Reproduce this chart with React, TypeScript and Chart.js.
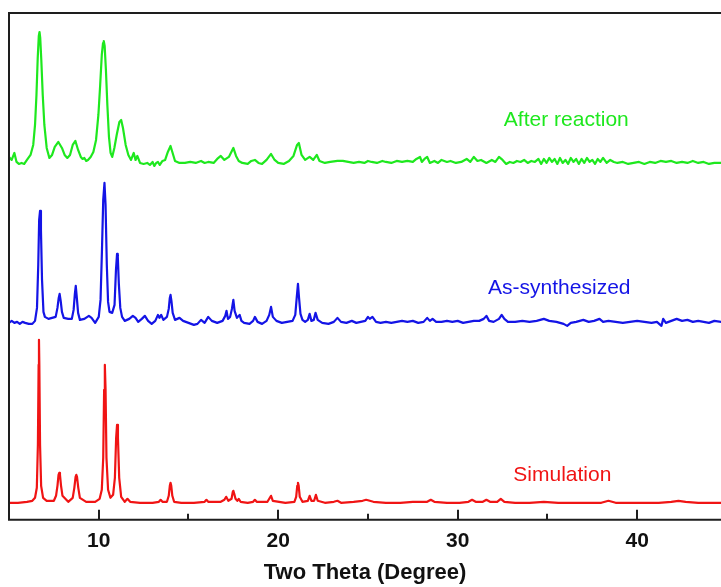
import React, { useEffect, useRef } from "react";
import { Chart, registerables } from "chart.js";

Chart.register(...registerables);

// Two Theta range shown
const xMin = 5;
const xMax = 44.67;
const xTickValues = [10, 20, 30, 40];
const xMinorTickValues = [15, 25, 35];
const xTitle = "Two Theta (Degree)";

// Series names and colours
const seriesNames = ["After reaction", "As-synthesized", "Simulation"];
const seriesColors = ["#1ee81e", "#1414e6", "#f01414"];
// label anchor positions (two theta, intensity) for each series name
const seriesLabelX = [36.05, 35.66, 35.83];
const seriesLabelY = [400, 232, 45];

// Simulation pattern [2θ, intensity (offset units)]
const simulation: [number, number][] = [
  [5.0, 17], [5.5, 17], [6.0, 18], [6.3, 19], [6.45, 22], [6.55, 32], [6.61, 75], [6.65, 155], [6.67, 180], [6.69, 155],
  [6.73, 75], [6.79, 34], [6.9, 22], [7.1, 19], [7.5, 19], [7.62, 24], [7.7, 34], [7.76, 45], [7.8, 47], [7.84, 45],
  [7.9, 34], [7.98, 24], [8.3, 18], [8.55, 22], [8.64, 32], [8.71, 43], [8.75, 45], [8.79, 43], [8.86, 32], [8.95, 22],
  [9.3, 18], [9.8, 18], [10.05, 21], [10.17, 30], [10.25, 62], [10.3, 130], [10.34, 155], [10.38, 130], [10.43, 62], [10.52, 30],
  [10.65, 22], [10.8, 25], [10.9, 42], [10.97, 82], [11.02, 95], [11.07, 82], [11.14, 42], [11.25, 23], [11.45, 18], [11.6, 21],
  [11.75, 18], [12.3, 17], [13.0, 17], [13.35, 18], [13.45, 20], [13.55, 18], [13.8, 18], [13.9, 24], [13.96, 34], [14.0, 37],
  [14.04, 34], [14.1, 24], [14.2, 18], [14.6, 17], [15.3, 17], [15.9, 18], [16.0, 20], [16.1, 18], [16.8, 18], [17.0, 20],
  [17.1, 23], [17.22, 19], [17.4, 21], [17.47, 28], [17.5, 29], [17.55, 26], [17.62, 21], [17.72, 19], [17.8, 21], [17.9, 18],
  [18.3, 17], [18.6, 18], [18.7, 20], [18.8, 18], [19.4, 18], [19.5, 21], [19.6, 24], [19.7, 19], [20.4, 17], [20.9, 18],
  [21.0, 23], [21.06, 34], [21.1, 37], [21.14, 34], [21.2, 23], [21.35, 18], [21.65, 19], [21.75, 24], [21.85, 19], [22.0, 19],
  [22.1, 25], [22.2, 19], [22.6, 17], [23.1, 18], [23.3, 19], [23.5, 17], [24.2, 18], [24.7, 19], [24.9, 20], [25.3, 18],
  [26.0, 17], [26.8, 17], [27.5, 18], [28.3, 18], [28.5, 20], [28.7, 18], [29.4, 17], [30.1, 17], [30.6, 18], [30.8, 20],
  [31.0, 18], [31.4, 18], [31.6, 20], [31.8, 18], [32.2, 18], [32.4, 21], [32.6, 18], [33.2, 17], [34.0, 17], [34.8, 18],
  [35.6, 17], [36.4, 17], [37.2, 17], [38.0, 17], [38.4, 19], [38.8, 17], [39.6, 17], [40.4, 17], [41.2, 17], [41.9, 18],
  [42.3, 19], [42.7, 18], [43.4, 17], [44.0, 17], [44.7, 17],
];

// As-synthesized pattern
const asSynthesized: [number, number][] = [
  [5.0, 197], [5.15, 199], [5.3, 197], [5.45, 198], [5.6, 196], [5.75, 198], [5.9, 197], [6.1, 196], [6.3, 196], [6.45, 199],
  [6.56, 212], [6.63, 255], [6.68, 300], [6.73, 309], [6.78, 290], [6.84, 240], [6.92, 208], [7.0, 203], [7.2, 201], [7.4, 202],
  [7.6, 203], [7.7, 212], [7.77, 222], [7.82, 226], [7.88, 219], [7.95, 208], [8.05, 202], [8.3, 201], [8.5, 201], [8.6, 210],
  [8.67, 226], [8.72, 234], [8.77, 224], [8.85, 207], [8.95, 200], [9.2, 201], [9.45, 204], [9.6, 202], [9.8, 197], [10.0, 203],
  [10.1, 220], [10.18, 270], [10.25, 320], [10.32, 337], [10.38, 315], [10.45, 255], [10.52, 218], [10.6, 208], [10.75, 207], [10.88, 215],
  [10.96, 250], [11.02, 266], [11.06, 264], [11.12, 236], [11.2, 212], [11.3, 203], [11.45, 199], [11.7, 201], [11.9, 204], [12.05, 202],
  [12.2, 198], [12.4, 201], [12.57, 204], [12.75, 199], [12.95, 196], [13.15, 199], [13.3, 205], [13.38, 202], [13.48, 205], [13.6, 200],
  [13.8, 203], [13.9, 211], [13.96, 222], [14.0, 225], [14.05, 219], [14.12, 207], [14.25, 200], [14.5, 202], [14.7, 199], [15.0, 197],
  [15.3, 195], [15.5, 196], [15.7, 200], [15.9, 197], [16.1, 203], [16.3, 199], [16.6, 197], [16.9, 199], [17.05, 204], [17.12, 209],
  [17.2, 201], [17.32, 203], [17.42, 211], [17.5, 220], [17.57, 209], [17.7, 202], [17.85, 205], [17.95, 199], [18.1, 197], [18.4, 196],
  [18.6, 199], [18.7, 203], [18.85, 198], [19.1, 196], [19.35, 199], [19.5, 205], [19.6, 213], [19.7, 203], [19.9, 199], [20.2, 197],
  [20.5, 198], [20.8, 199], [20.95, 205], [21.03, 222], [21.1, 236], [21.16, 222], [21.24, 206], [21.35, 200], [21.5, 198], [21.65, 200],
  [21.75, 206], [21.85, 199], [21.98, 200], [22.08, 207], [22.2, 200], [22.45, 197], [22.8, 196], [23.1, 198], [23.3, 202], [23.5, 198],
  [23.8, 197], [24.1, 199], [24.35, 197], [24.6, 198], [24.85, 199], [25.0, 203], [25.1, 201], [25.25, 203], [25.45, 198], [25.7, 197],
  [26.0, 198], [26.3, 197], [26.6, 198], [26.9, 199], [27.2, 198], [27.5, 199], [27.8, 197], [28.1, 198], [28.3, 202], [28.45, 199],
  [28.6, 201], [28.8, 198], [29.1, 198], [29.4, 199], [29.7, 198], [30.0, 199], [30.3, 197], [30.6, 198], [30.9, 199], [31.2, 199],
  [31.45, 201], [31.6, 204], [31.75, 199], [32.0, 198], [32.3, 201], [32.45, 205], [32.6, 201], [32.8, 198], [33.2, 198], [33.6, 199],
  [34.0, 198], [34.4, 199], [34.8, 201], [35.1, 199], [35.5, 198], [35.9, 196], [36.1, 194], [36.3, 197], [36.6, 198], [37.0, 200],
  [37.3, 198], [37.6, 199], [37.9, 201], [38.1, 198], [38.4, 199], [38.8, 198], [39.2, 197], [39.6, 198], [40.0, 199], [40.4, 198],
  [40.8, 197], [41.1, 198], [41.35, 194], [41.45, 201], [41.6, 197], [41.9, 199], [42.2, 201], [42.5, 199], [42.8, 200], [43.1, 198],
  [43.4, 199], [43.7, 198], [44.0, 197], [44.3, 199], [44.7, 198],
];

// After reaction pattern
const afterReaction: [number, number][] = [
  [5.0, 363], [5.15, 360], [5.3, 367], [5.42, 358], [5.55, 356], [5.7, 357], [5.85, 356], [6.0, 360], [6.2, 365], [6.35, 375],
  [6.45, 395], [6.53, 425], [6.6, 462], [6.66, 484], [6.7, 488], [6.74, 482], [6.8, 460], [6.88, 425], [6.97, 395], [7.1, 372],
  [7.25, 362], [7.4, 365], [7.55, 373], [7.75, 378], [7.95, 372], [8.1, 365], [8.25, 362], [8.4, 365], [8.55, 375], [8.7, 379],
  [8.85, 370], [9.0, 363], [9.1, 361], [9.2, 362], [9.3, 359], [9.4, 360], [9.55, 363], [9.7, 368], [9.85, 380], [9.98, 405],
  [10.08, 435], [10.17, 465], [10.24, 477], [10.28, 479], [10.33, 474], [10.4, 450], [10.48, 415], [10.57, 383], [10.66, 367], [10.75, 363],
  [10.87, 372], [11.0, 385], [11.15, 398], [11.25, 400], [11.35, 392], [11.5, 375], [11.65, 365], [11.8, 360], [11.95, 367], [12.05, 360],
  [12.15, 364], [12.3, 357], [12.5, 356], [12.7, 357], [12.85, 355], [13.0, 358], [13.1, 354], [13.2, 357], [13.3, 358], [13.4, 355],
  [13.55, 359], [13.7, 360], [13.85, 368], [14.0, 374], [14.1, 368], [14.25, 359], [14.5, 357], [14.8, 357], [15.1, 358], [15.4, 357],
  [15.7, 359], [15.9, 357], [16.1, 358], [16.4, 357], [16.6, 361], [16.8, 364], [17.0, 360], [17.25, 363], [17.5, 372], [17.65, 364],
  [17.8, 359], [18.0, 357], [18.3, 356], [18.5, 359], [18.7, 360], [18.9, 357], [19.1, 356], [19.35, 360], [19.6, 366], [19.8, 360],
  [20.0, 357], [20.3, 356], [20.6, 359], [20.85, 364], [21.05, 375], [21.15, 377], [21.3, 365], [21.5, 360], [21.75, 363], [21.95, 360],
  [22.15, 365], [22.3, 359], [22.6, 357], [22.9, 358], [23.3, 359], [23.6, 359], [23.9, 358], [24.2, 357], [24.5, 358], [24.8, 357],
  [25.0, 359], [25.2, 358], [25.5, 357], [25.8, 359], [26.0, 358], [26.3, 357], [26.6, 359], [26.9, 358], [27.2, 359], [27.5, 358],
  [27.7, 361], [27.9, 363], [28.0, 358], [28.15, 361], [28.3, 363], [28.45, 357], [28.7, 359], [28.9, 357], [29.1, 360], [29.4, 358],
  [29.6, 359], [29.9, 357], [30.2, 358], [30.5, 361], [30.7, 358], [30.9, 363], [31.1, 359], [31.3, 360], [31.6, 357], [31.9, 360],
  [32.1, 358], [32.3, 363], [32.5, 360], [32.7, 356], [32.9, 358], [33.1, 357], [33.3, 359], [33.5, 358], [33.7, 360], [33.9, 357],
  [34.1, 359], [34.3, 358], [34.5, 361], [34.65, 356], [34.8, 361], [34.95, 357], [35.1, 362], [35.25, 358], [35.4, 361], [35.55, 356],
  [35.7, 362], [35.85, 357], [36.0, 360], [36.15, 356], [36.3, 362], [36.45, 358], [36.6, 361], [36.75, 356], [36.9, 361], [37.05, 357],
  [37.2, 362], [37.35, 358], [37.5, 360], [37.65, 356], [37.8, 361], [37.95, 358], [38.1, 362], [38.3, 357], [38.5, 360], [38.7, 358],
  [38.9, 357], [39.2, 358], [39.5, 356], [39.8, 357], [40.1, 358], [40.4, 356], [40.7, 358], [41.0, 357], [41.3, 359], [41.6, 358],
  [41.9, 359], [42.2, 357], [42.5, 358], [42.8, 357], [43.1, 359], [43.4, 357], [43.7, 358], [44.0, 356], [44.3, 357], [44.7, 357],
];

const seriesData = [afterReaction, asSynthesized, simulation];

const FONT = "'Liberation Sans', Arial, Helvetica, sans-serif";
const FRAME = "#1e1e1e";

const framePlugin = {
  id: "frameAndLabels",
  afterDatasetsDraw(chart: any) {
    const { ctx, chartArea } = chart;
    const xs = chart.scales.x;
    const ys = chart.scales.y;
    ctx.save();
    ctx.strokeStyle = FRAME;
    ctx.lineWidth = 2;
    ctx.beginPath();
    ctx.moveTo(chartArea.right + 2, chartArea.top);
    ctx.lineTo(chartArea.left, chartArea.top);
    ctx.lineTo(chartArea.left, chartArea.bottom);
    ctx.lineTo(chartArea.right + 2, chartArea.bottom);
    ctx.stroke();
    ctx.beginPath();
    for (const v of xTickValues) {
      const px = Math.round(xs.getPixelForValue(v));
      ctx.moveTo(px, chartArea.bottom);
      ctx.lineTo(px, chartArea.bottom - 10);
    }
    for (const v of xMinorTickValues) {
      const px = Math.round(xs.getPixelForValue(v));
      ctx.moveTo(px, chartArea.bottom);
      ctx.lineTo(px, chartArea.bottom - 6);
    }
    ctx.stroke();
    ctx.font = `21px ${FONT}`;
    ctx.textAlign = "center";
    ctx.textBaseline = "middle";
    seriesNames.forEach((name, i) => {
      ctx.fillStyle = seriesColors[i];
      ctx.fillText(name, xs.getPixelForValue(seriesLabelX[i]), ys.getPixelForValue(seriesLabelY[i]));
    });
    ctx.restore();
  },
};

export default function App() {
  const canvasRef = useRef<HTMLCanvasElement | null>(null);

  useEffect(() => {
    if (!canvasRef.current) return;
    const chart = new Chart(canvasRef.current, {
      type: "line",
      data: {
        datasets: seriesNames.map((name, i) => ({
          label: name,
          data: seriesData[i].map(([x, y]) => ({ x, y })),
          borderColor: seriesColors[i],
          backgroundColor: seriesColors[i],
          borderWidth: 2.2,
          pointRadius: 0,
          tension: 0,
          borderJoinStyle: "round",
          fill: false,
        })),
      },
      options: {
        animation: false,
        responsive: true,
        maintainAspectRatio: false,
        layout: { padding: { left: 9, top: 13, right: 0, bottom: 3 } },
        plugins: {
          legend: { display: false },
          tooltip: { enabled: false },
        },
        scales: {
          x: {
            type: "linear",
            min: xMin,
            max: xMax,
            afterBuildTicks: (scale: any) => {
              scale.ticks = xTickValues.map((v) => ({ value: v }));
            },
            grid: { display: false, drawTicks: false },
            border: { display: false },
            ticks: {
              color: "#111",
              font: { family: FONT, size: 21, weight: "bold" },
              padding: 8.5,
              maxRotation: 0,
              autoSkip: false,
            },
            title: {
              display: true,
              text: xTitle,
              color: "#111",
              font: { family: FONT, size: 22, weight: "bold", lineHeight: 1.0 },
              padding: 0,
            },
          },
          y: {
            display: false,
            min: 0,
            max: 507,
          },
        },
      },
      plugins: [framePlugin],
    });
    return () => chart.destroy();
  }, []);

  return (
    <div style={{ position: "fixed", left: 0, top: 0, width: 721, height: 587, background: "#fff" }}>
      <canvas ref={canvasRef} />
    </div>
  );
}
